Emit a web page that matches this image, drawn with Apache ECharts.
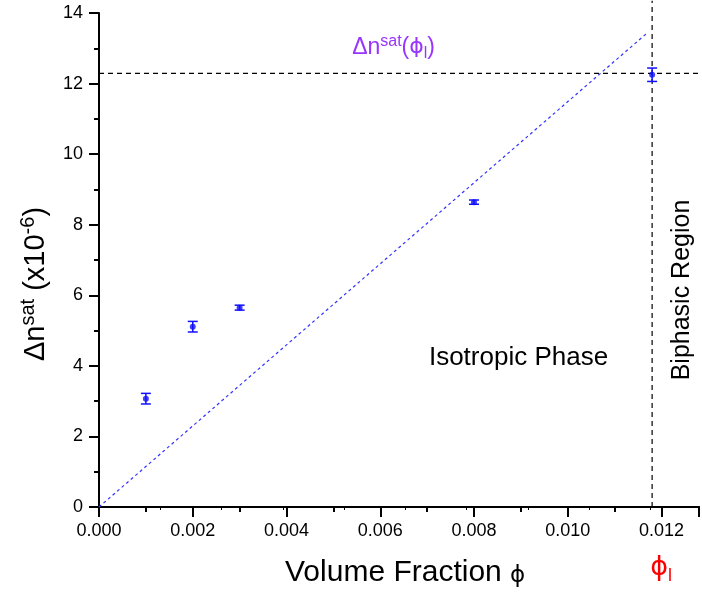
<!DOCTYPE html>
<html>
<head>
<meta charset="utf-8">
<script src="https://cdn.jsdelivr.net/npm/echarts@6/dist/echarts.min.js"></script>
<style>
  html, body { margin: 0; padding: 0; background: #fff; }
  #chart { width: 702px; height: 592px; }
</style>
</head>
<body>
<div id="chart"></div>
<script>
// measured points: volume fraction, Δn^sat (x10^-6), error
const phi = [0.001, 0.002, 0.003, 0.008, 0.0118];
const dnSat = [3.07, 5.11, 5.65, 8.64, 12.25];
const dnErr = [0.15, 0.15, 0.07, 0.06, 0.19];

// dotted guide line through origin
const guideX = [0, 0.0117];
const guideY = [0, 13.44];

// limits
const phiL = 0.0118;
const dnSatL = 12.29;

const xTicks = { min: 0, max: 0.0128, interval: 0.002 };
const yTicks = { min: 0, max: 14, interval: 2 };

// annotation anchors (data coords)
const notePhiSat = [0.0054, 13.02];
const noteIso = [0.00895, 4.22];
const noteBiph = [0.01245, 6.15];

const FONT = 'Liberation Sans, Arial, sans-serif';
const BLUE = '#1010ff';
const PURPLE = '#9933ff';

const chart = echarts.init(document.getElementById('chart'));

const option = {
  animation: false,
  backgroundColor: '#fff',
  grid: { left: 99, right: 0, top: 13, bottom: 85, containLabel: false },
  xAxis: [
    {
      type: 'value',
      min: xTicks.min,
      max: xTicks.max,
      interval: xTicks.interval,
      axisLine: { onZero: false, lineStyle: { color: '#000', width: 2 } },
      axisTick: { show: true, inside: false, length: 10, lineStyle: { color: '#000', width: 2 } },
      minorTick: { show: true, splitNumber: 2, length: 5, lineStyle: { color: '#000', width: 2 } },
      axisLabel: {
        fontFamily: FONT, fontSize: 18, color: '#000', margin: 15,
        formatter: (v) => (Math.abs(v - xTicks.max) < 1e-9 ? '' : v.toFixed(3))
      },
      splitLine: { show: false }
    },
    {
      type: 'value',
      position: 'top',
      min: 0,
      max: 9.79,
      interval: 1,
      axisLine: { lineStyle: { color: '#000', width: 2 } },
      axisTick: { show: true, inside: true, length: 3, lineStyle: { color: '#000', width: 1 } },
      axisLabel: { show: false },
      splitLine: { show: false }
    }
  ],
  yAxis: {
    type: 'value',
    min: yTicks.min,
    max: yTicks.max,
    interval: yTicks.interval,
    axisLine: { onZero: false, lineStyle: { color: '#000', width: 2 } },
    axisTick: { show: true, inside: false, length: 10, lineStyle: { color: '#000', width: 2 } },
    minorTick: { show: true, splitNumber: 2, length: 5, lineStyle: { color: '#000', width: 2 } },
    axisLabel: { fontFamily: FONT, fontSize: 18, color: '#000', margin: 16 },
    splitLine: { show: false }
  },
  series: [
    {
      // dotted guide
      type: 'line',
      data: guideX.map((x, i) => [x, guideY[i]]),
      symbol: 'none',
      lineStyle: { color: '#3333ff', width: 1.2, type: [3, 3] },
      z: 2
    },
    {
      // horizontal saturation level
      type: 'line',
      data: [[0, dnSatL], [xTicks.max, dnSatL]],
      symbol: 'none',
      lineStyle: { color: '#000', width: 1.2, type: [5, 4] },
      z: 2
    },
    {
      // vertical phi_l line
      type: 'line',
      clip: false,
      data: [[phiL, 0], [phiL, 14.35]],
      symbol: 'none',
      lineStyle: { color: '#000', width: 1.2, type: [5, 4] },
      z: 2
    },
    {
      // error bars
      type: 'custom',
      data: phi.map((x, i) => [x, dnSat[i], dnErr[i]]),
      renderItem: (params, api) => {
        const x = api.value(0), y = api.value(1), e = api.value(2);
        const lo = api.coord([x, y - e]);
        const hi = api.coord([x, y + e]);
        const w = 5;
        const style = { stroke: BLUE, lineWidth: 1.5 };
        return {
          type: 'group',
          children: [
            { type: 'line', shape: { x1: lo[0], y1: lo[1], x2: hi[0], y2: hi[1] }, style },
            { type: 'line', shape: { x1: lo[0] - w, y1: lo[1], x2: lo[0] + w, y2: lo[1] }, style },
            { type: 'line', shape: { x1: hi[0] - w, y1: hi[1], x2: hi[0] + w, y2: hi[1] }, style }
          ]
        };
      },
      z: 3
    },
    {
      type: 'scatter',
      data: phi.map((x, i) => [x, dnSat[i]]),
      symbol: 'circle',
      symbolSize: 6,
      itemStyle: { color: BLUE },
      z: 4
    }
  ]
};

chart.setOption(option);

// text annotations, placed through the axes
const px = (p) => chart.convertToPixel({ xAxisIndex: 0, yAxisIndex: 0 }, p);
const pSat = px(notePhiSat);
const pIso = px(noteIso);
const pBiph = px(noteBiph);
const pPhiL = px([phiL, 0]);

chart.setOption({
  graphic: [
    {
      type: 'text', x: pSat[0], y: pSat[1],
      style: {
        text: '{a|Δn}{sup|sat}{a|(}{g|ϕ}{sub|l}{a|)}',
        align: 'left', verticalAlign: 'middle',
        rich: {
          a: { fontFamily: FONT, fontSize: 23, fill: PURPLE },
          g: { fontFamily: 'DejaVu Sans', fontSize: 22, fill: PURPLE },
          sup: { fontFamily: FONT, fontSize: 16, fill: PURPLE, padding: [0, 0, 12, 0] },
          sub: { fontFamily: FONT, fontSize: 16, fill: PURPLE, padding: [12, 0, 0, 0] }
        }
      }
    },
    {
      type: 'text', x: pIso[0], y: pIso[1],
      style: {
        text: 'Isotropic Phase', align: 'center', verticalAlign: 'middle',
        fontFamily: FONT, fontSize: 26, fill: '#000'
      }
    },
    {
      type: 'text', x: pBiph[0], y: pBiph[1], rotation: Math.PI / 2,
      style: {
        text: 'Biphasic Region', align: 'center', verticalAlign: 'middle',
        fontFamily: FONT, fontSize: 25, fill: '#000'
      }
    },
    {
      type: 'text', x: pPhiL[0] + 9, y: pPhiL[1] + 61,
      style: {
        text: '{g|ϕ}{sub|l}', align: 'center', verticalAlign: 'middle',
        rich: {
          g: { fontFamily: 'DejaVu Sans', fontSize: 27, fill: '#ff0000' },
          sub: { fontFamily: FONT, fontSize: 18, fill: '#ff0000', padding: [16, 0, 0, 0] }
        }
      }
    },
    {
      // x-axis title
      type: 'text', x: 285, y: 573,
      style: {
        text: '{a|Volume Fraction }{g|ϕ}', align: 'left', verticalAlign: 'middle',
        rich: {
          a: { fontFamily: FONT, fontSize: 30, fill: '#000' },
          g: { fontFamily: 'DejaVu Sans', fontSize: 23, fill: '#000', padding: [6, 0, 0, 0] }
        }
      }
    },
    {
      // y-axis title
      type: 'text', x: 36, y: 284, rotation: Math.PI / 2,
      style: {
        text: '{a|Δn}{sup|sat}{a| (x10}{sup|-6}{a|)}', align: 'center', verticalAlign: 'middle',
        rich: {
          a: { fontFamily: FONT, fontSize: 29, fill: '#000' },
          sup: { fontFamily: FONT, fontSize: 20, fill: '#000', padding: [0, 0, 15, 0] }
        }
      }
    }
  ]
});
</script>
</body>
</html>
